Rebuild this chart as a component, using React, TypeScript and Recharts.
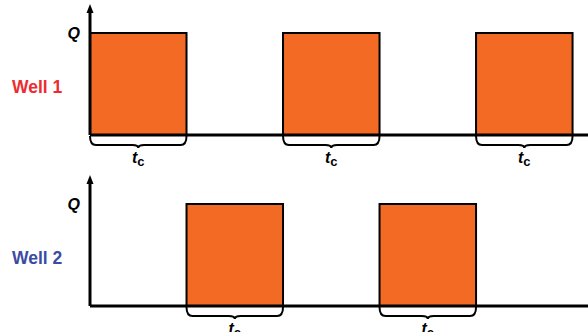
import { ComposedChart, Area, XAxis, YAxis, ReferenceArea } from "recharts";

// time in units of the cycle length t_c
const time = [0, 1, 2, 3, 4, 5, 5.16];
const well1Q = [1, 0, 1, 0, 1, 0, 0];
const well2Q = [0, 1, 0, 1, 0, 0, 0];
const well1Cycles = [[0, 1], [2, 3], [4, 5]];
const well2Cycles = [[1, 2], [3, 4]];
const yTicks = [1];
const xMax = 5.16;
const yMax = 1.225;

const data = time.map((t, i) => ({ t, q1: well1Q[i], q2: well2Q[i] }));

const FONT = "'Liberation Sans', Arial, sans-serif";
const ORANGE = "#F26A24";

const Brace = (props: any) => {
  const { x, y, width, height } = props;
  const base = y + height;
  const x1 = x + width;
  const mid = x + width / 2;
  const yA = base + 1;
  const yB = base + 10;
  const yT = base + 13;
  const r = 6;
  const d = `M${x},${yA} Q${x},${yB} ${x + r},${yB} L${mid - r},${yB} Q${mid},${yB} ${mid},${yT} Q${mid},${yB} ${mid + r},${yB} L${x1 - r},${yB} Q${x1},${yB} ${x1},${yA}`;
  return (
    <g>
      <path d={d} fill="none" stroke="#000" strokeWidth={2} />
      <text x={mid} y={base + 28} textAnchor="middle" fontFamily={FONT} fontWeight="bold" fontSize={16} fill="#000">
        <tspan fontStyle="italic">t</tspan>
        <tspan fontSize={13} dy={3}>c</tspan>
      </text>
    </g>
  );
};

const axisDecor = (name: string, color: string) => (props: any) => {
  const { x, y, width, height } = props.viewBox;
  const ax = x + width;
  return (
    <g>
      <polygon points={`${ax},${y - 6} ${ax - 3.5},${y + 3} ${ax + 3.5},${y + 3}`} fill="#000" />
      <text x={12} y={y + height - 42} fontFamily={FONT} fontWeight="bold" fontSize={17.5} fill={color}>
        {name}
      </text>
    </g>
  );
};

function WellChart({ dataKey, cycles, name, color }: { dataKey: string; cycles: number[][]; name: string; color: string }) {
  return (
    <ComposedChart width={588} height={172} data={data} margin={{ top: 10, right: 0, bottom: 0, left: 0 }}>
      <Area
        type="stepAfter"
        dataKey={dataKey}
        stroke="#000"
        strokeWidth={2}
        fill={ORANGE}
        fillOpacity={1}
        dot={false}
        activeDot={false}
        isAnimationActive={false}
      />
      {cycles.map(([a, b], i) => (
        <ReferenceArea key={i} x1={a} x2={b} y1={0} y2={1} shape={Brace} />
      ))}
      <XAxis
        dataKey="t"
        type="number"
        domain={[0, xMax]}
        allowDataOverflow
        tick={false}
        tickLine={false}
        axisLine={{ stroke: "#000", strokeWidth: 3 }}
        height={37}
      />
      <YAxis
        type="number"
        domain={[0, yMax]}
        allowDataOverflow
        ticks={yTicks}
        tickFormatter={() => "Q"}
        tick={{ fill: "#000", fontSize: 16, fontWeight: "bold", fontStyle: "italic", fontFamily: FONT }}
        tickLine={false}
        tickSize={4}
        tickMargin={6}
        axisLine={{ stroke: "#000", strokeWidth: 3 }}
        width={90}
        label={{ content: axisDecor(name, color) }}
      />
    </ComposedChart>
  );
}

export default function App() {
  return (
    <div style={{ position: "absolute", left: 0, top: 0, width: 588, height: 332, overflow: "hidden", background: "#fff" }}>
      <div style={{ position: "absolute", left: 0, top: 0 }}>
        <WellChart dataKey="q1" cycles={well1Cycles} name="Well 1" color="#EE2B30" />
      </div>
      <div style={{ position: "absolute", left: 0, top: 171 }}>
        <WellChart dataKey="q2" cycles={well2Cycles} name="Well 2" color="#3A4CA2" />
      </div>
    </div>
  );
}
